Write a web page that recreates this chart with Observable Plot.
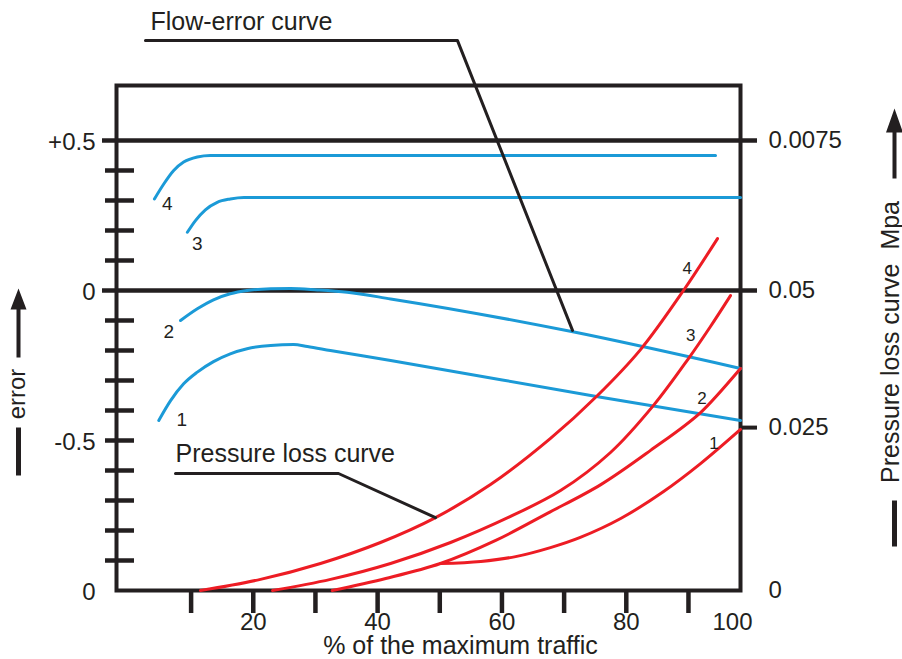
<!DOCTYPE html>
<html><head><meta charset="utf-8">
<script src="https://cdn.jsdelivr.net/npm/d3@7"></script>
<script src="https://cdn.jsdelivr.net/npm/@observablehq/plot@0.6"></script>
<style>
html,body{margin:0;padding:0;background:#fff;}
#chart svg{display:block;}
</style>
</head><body><div id="chart"></div>
<script>
// ---- data (x = % of maximum traffic, y = error on the left axis units) ----
const xExtent = [-2, 98.37];          // the frame spans slightly less than 100 %
const yExtent = [-1, 0.6833];

const errorCurve1 = [[4.8,-0.433],[6.7,-0.367],[8.8,-0.311],[11.0,-0.272],[13.6,-0.237],[16.3,-0.211],[19.0,-0.194],[22.8,-0.183],[26.5,-0.18],[28.7,-0.187],[32.4,-0.2],[42.1,-0.233],[75.9,-0.356],[98.37,-0.433]];
const errorCurve2 = [[8.3,-0.1],[11.0,-0.061],[13.6,-0.031],[16.3,-0.011],[19.0,0],[22.8,0.006],[26.0,0.007],[30.3,0.002],[35.1,-0.006],[42.1,-0.028],[71.2,-0.137],[98.37,-0.26]];
const errorCurve3 = [[9.4,0.194],[10.7,0.233],[12.3,0.269],[14.2,0.294],[16.3,0.305],[18.5,0.31],[98.37,0.31]];
const errorCurve4 = [[4.1,0.305],[5.6,0.355],[7.2,0.40],[8.8,0.428],[11.0,0.445],[13.1,0.45],[94.35,0.45]];

const pressureCurve1 = [[50.1,-0.91],[56.6,-0.903],[62.2,-0.887],[67.8,-0.857],[72.6,-0.823],[79.1,-0.76],[86.0,-0.67],[91.94,-0.577],[98.37,-0.463]];
const pressureCurve2 = [[32.7,-1],[41.3,-0.96],[50.1,-0.91],[59.0,-0.833],[67.3,-0.743],[75.9,-0.647],[83.9,-0.533],[91.94,-0.407],[98.37,-0.26]];
const pressureCurve3 = [[23.1,-1],[32.43,-0.963],[42.08,-0.91],[51.73,-0.84],[61.38,-0.753],[69.42,-0.667],[77.46,-0.54],[84.38,-0.383],[90.0,-0.227],[93.54,-0.12],[96.76,-0.017]];
const pressureCurve4 = [[11.51,-1],[21.16,-0.963],[30.81,-0.91],[40.46,-0.84],[49.31,-0.757],[58.16,-0.647],[67.81,-0.493],[75.37,-0.35],[82.29,-0.197],[89.2,0],[94.67,0.173]];

const curveNames = ["1","2","3","4"];
const errorLabelX = [8.5, 6.4, 11.0, 6.15];
const errorLabelY = [-0.43, -0.139, 0.156, 0.288];
const pressureLabelX = [94.1, 92.18, 90.35, 89.8];
const pressureLabelY = [-0.511, -0.361, -0.15, 0.072];

const flowLeader = [[2.66,0.833],[52.85,0.833],[71.35,-0.133]];
const pressureLeader = [[7.49,-0.61],[33.71,-0.61],[49.31,-0.757]];
const flowTitle = {x: 3.47, y: 0.869, text: "Flow-error curve"};
const pressureTitle = {x: 7.49, y: -0.573, text: "Pressure loss curve"};

const xMinorTicks = [10,20,30,40,50,60,70,80,90];
const xTickLabels = [20,40,60,80,100];
const yMinorTicks = [0.4,0.3,0.2,0.1,-0.1,-0.2,-0.3,-0.4,-0.5,-0.6,-0.7,-0.8,-0.9];
const yMajorLines = [0.5, 0];
const leftTickAt = [0.5, 0, -0.5, -1];
const leftTickLabels = ["+0.5", "0", "-0.5", "0"];
const rightTickAt = [0.5, 0, -0.457, -1];
const rightTickLabels = ["0.0075", "0.05", "0.025", "0"];

// ---- styling ----
const ink = "#231f20", blue = "#1b9ad7", red = "#ed1c24";
const font = "'Liberation Sans', Arial, Helvetica, sans-serif";

const rows = (curves) => curves.flatMap((c, i) => c.map(([x, y]) => ({x, y, id: curveNames[i]})));
const errorRows = rows([errorCurve1, errorCurve2, errorCurve3, errorCurve4]);
const pressureRows = rows([pressureCurve1, pressureCurve2, pressureCurve3, pressureCurve4]);
const leaderRows = [flowLeader, pressureLeader].flatMap((c, i) => c.map(([x, y]) => ({x, y, id: i})));
const errorLabels = curveNames.map((t, i) => ({x: errorLabelX[i], y: errorLabelY[i], text: t}));
const pressureLabels = curveNames.map((t, i) => ({x: pressureLabelX[i], y: pressureLabelY[i], text: t}));

const arrowUp = (w, h, len, sw) => ({draw(ctx) {
  ctx.moveTo(0, 0); ctx.lineTo(w / 2, h); ctx.lineTo(-w / 2, h); ctx.closePath();
  ctx.rect(-sw / 2, h - 1, sw, len - h + 1);
}});
const bar = (w, len) => ({draw(ctx) { ctx.rect(-w / 2, 0, w, len); }});

const plot = Plot.plot({
  width: 902, height: 659,
  marginLeft: 116, marginRight: 162, marginTop: 85, marginBottom: 69,
  style: {fontFamily: font, background: "white", overflow: "visible", color: ink},
  x: {domain: xExtent, axis: null},
  y: {domain: yExtent, axis: null},
  marks: [
    Plot.ruleY(yMinorTicks, {stroke: ink, strokeWidth: 4.5, insetLeft: -11, insetRight: 606}),
    Plot.ruleX(xMinorTicks, {stroke: ink, strokeWidth: 4.5, insetTop: 505, insetBottom: -23}),
    Plot.ruleY(yMajorLines, {stroke: ink, strokeWidth: 4.5, insetLeft: -14, insetRight: -17}),
    Plot.ruleY([rightTickAt[2]], {stroke: ink, strokeWidth: 4, insetLeft: 624, insetRight: -17}),
    Plot.frame({stroke: ink, strokeWidth: 4}),
    Plot.line(errorRows, {x: "x", y: "y", z: "id", stroke: blue, strokeWidth: 3, curve: "monotone-x"}),
    Plot.line(pressureRows, {x: "x", y: "y", z: "id", stroke: red, strokeWidth: 3, curve: "catmull-rom"}),
    Plot.line(leaderRows, {x: "x", y: "y", z: "id", stroke: ink, strokeWidth: 3}),
    Plot.text([flowTitle, pressureTitle], {x: "x", y: "y", text: "text", textAnchor: "start", lineAnchor: "bottom", fontSize: 25, fill: ink}),
    Plot.text(errorLabels, {x: "x", y: "y", text: "text", fontSize: 19, fill: ink, lineAnchor: "middle"}),
    Plot.text(pressureLabels, {x: "x", y: "y", text: "text", fontSize: 17, fill: ink, lineAnchor: "middle"}),
    // tick labels
    Plot.text(leftTickAt, {y: d => d, text: (d, i) => leftTickLabels[i], frameAnchor: "left", dx: -21, dy: 2, textAnchor: "end", lineAnchor: "middle", fontSize: 24, fill: ink, ariaLabel: "num"}),
    Plot.text(rightTickAt, {y: d => d, text: (d, i) => rightTickLabels[i], frameAnchor: "right", dx: 28, textAnchor: "start", lineAnchor: "middle", fontSize: 24, fill: ink, ariaLabel: "num"}),
    Plot.text(xTickLabels.slice(0, -1), {x: d => d, text: d => String(d), frameAnchor: "bottom", dy: 32, textAnchor: "middle", lineAnchor: "middle", fontSize: 24, fill: ink, ariaLabel: "num"}),
    Plot.text(xTickLabels.slice(-1), {text: d => String(d), frameAnchor: "bottom-right", dx: -8, dy: 32, textAnchor: "middle", lineAnchor: "middle", fontSize: 24, fill: ink, ariaLabel: "num"}),
    // axis titles
    Plot.text(["% of the maximum traffic"], {frameAnchor: "bottom", dx: 32, dy: 55, textAnchor: "middle", lineAnchor: "middle", fontSize: 25, fill: ink}),
    Plot.text(["error"], {frameAnchor: "top-left", dx: -92, dy: 308.5, rotate: -90, textAnchor: "middle", lineAnchor: "bottom", fontSize: 24, fill: ink}),
    Plot.text(["Pressure loss curve\u00a0 Mpa"], {frameAnchor: "top-right", dx: 158, dy: 256.5, rotate: -90, textAnchor: "middle", lineAnchor: "bottom", fontSize: 25, fill: ink}),
    Plot.dot([0], {frameAnchor: "top-left", dx: -98, dy: 203, symbol: arrowUp(16, 21, 69, 4), fill: ink, stroke: "none"}),
    Plot.dot([0], {frameAnchor: "top-left", dx: -98, dy: 342, symbol: bar(5, 48), fill: ink, stroke: "none"}),
    Plot.dot([0], {frameAnchor: "top-right", dx: 154, dy: 23, symbol: arrowUp(17, 24, 70, 4), fill: ink, stroke: "none"}),
    Plot.dot([0], {frameAnchor: "top-right", dx: 154, dy: 415, symbol: bar(5, 46), fill: ink, stroke: "none"})
  ]
});
d3.select(plot).selectAll('g[aria-label="num"] text').style("letter-spacing", "1.7px");
document.getElementById("chart").appendChild(plot);
</script></body></html>
